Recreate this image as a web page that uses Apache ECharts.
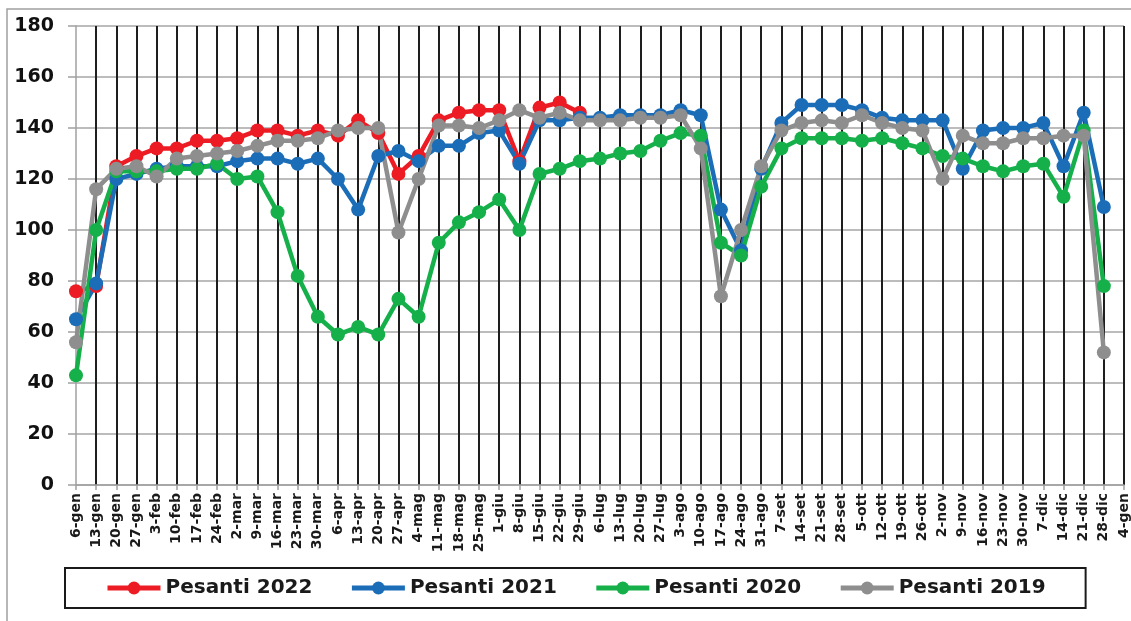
<!DOCTYPE html>
<html>
<head>
<meta charset="utf-8">
<script src="https://cdn.jsdelivr.net/npm/echarts@6/dist/echarts.min.js"></script>
<style>
html,body{margin:0;padding:0;background:#fff;}
#chart{width:1131px;height:621px;}
</style>
</head>
<body>
<div id="chart"></div>
<script>
var categories = ['6-gen','13-gen','20-gen','27-gen','3-feb','10-feb','17-feb','24-feb','2-mar','9-mar','16-mar','23-mar','30-mar','6-apr','13-apr','20-apr','27-apr','4-mag','11-mag','18-mag','25-mag','1-giu','8-giu','15-giu','22-giu','29-giu','6-lug','13-lug','20-lug','27-lug','3-ago','10-ago','17-ago','24-ago','31-ago','7-set','14-set','21-set','28-set','5-ott','12-ott','19-ott','26-ott','2-nov','9-nov','16-nov','23-nov','30-nov','7-dic','14-dic','21-dic','28-dic','4-gen'];

var pesanti2022 = [76,78,125,129,132,132,135,135,136,139,139,137,139,137,143,138,122,129,143,146,147,147,127,148,150,146];

var pesanti2021 = [65,79,120,122,124,125,125,125,127,128,128,126,128,120,108,129,131,127,133,133,138,139,126,143,143,144,144,145,145,145,147,145,108,92,124,142,149,149,149,147,144,143,143,143,124,139,140,140,142,125,146,109];

var pesanti2020 = [43,100,123,123,123,124,124,126,120,121,107,82,66,59,62,59,73,66,95,103,107,112,100,122,124,127,128,130,131,135,138,137,95,90,117,132,136,136,136,135,136,134,132,129,128,125,123,125,126,113,139,78];

var pesanti2019 = [56,116,124,125,121,128,129,130,131,133,135,135,136,139,140,140,99,120,141,141,140,143,147,144,146,143,143,143,144,144,145,132,74,100,125,139,142,143,142,145,142,140,139,120,137,134,134,136,136,137,137,52];

var seriesNames = ['Pesanti 2022','Pesanti 2021','Pesanti 2020','Pesanti 2019'];
var seriesColors = ['#ED1C24','#1B6DB8','#16B04B','#8E8E8E'];
var seriesData = [pesanti2022, pesanti2021, pesanti2020, pesanti2019];

var FONT = 'DejaVu Sans';
var chart = echarts.init(document.getElementById('chart'));

var series = seriesNames.map(function(n, k){
  return {
    name: n,
    type: 'line',
    data: seriesData[k],
    symbol: 'circle',
    symbolSize: 14,
    showAllSymbol: true,
    lineStyle: {color: seriesColors[k], width: 4.5},
    itemStyle: {color: seriesColors[k]},
    emphasis: {disabled: true}
  };
});

chart.setOption({
  animation: false,
  backgroundColor: '#ffffff',
  graphic: [{
    type: 'rect',
    shape: {x: 7, y: 9, width: 1300, height: 800},
    style: {fill: 'none', stroke: '#a0a0a0', lineWidth: 1.5},
    silent: true
  }],
  grid: {left: 76, right: 5, top: 26, bottom: 136, containLabel: false},
  legend: {
    data: seriesNames,
    left: 65,
    top: 568,
    padding: [10, 40],
    itemGap: 37,
    itemWidth: 53,
    itemHeight: 16,
    lineStyle: {width: 5},
    borderColor: '#1a1a1a',
    borderWidth: 2,
    textStyle: {fontFamily: FONT, fontWeight: 'bold', fontSize: 20, color: '#1a1a1a'}
  },
  xAxis: {
    type: 'category',
    data: categories,
    boundaryGap: false,
    axisLine: {show: true, lineStyle: {color: '#a0a0a0', width: 1.5}},
    axisTick: {show: true, interval: 0, length: 5, lineStyle: {color: '#a0a0a0', width: 1.5}},
    axisLabel: {interval: 0, rotate: 90, margin: 8, fontFamily: FONT, fontWeight: 'bold', fontSize: 14, color: '#1a1a1a'},
    splitLine: {show: true, interval: function(i){ return i > 0; }, lineStyle: {color: '#1e1e1e', width: 2}}
  },
  yAxis: {
    type: 'value',
    min: 0, max: 180, interval: 20,
    axisLine: {show: true, lineStyle: {color: '#a0a0a0', width: 1.5}},
    axisTick: {show: true, length: 8, lineStyle: {color: '#a0a0a0', width: 1.5}},
    axisLabel: {margin: 22, fontFamily: FONT, fontWeight: 'bold', fontSize: 19, color: '#111111'},
    splitLine: {show: true, lineStyle: {color: '#a6a6a6', width: 1.5}}
  },
  series: series
});
</script>
</body>
</html>
